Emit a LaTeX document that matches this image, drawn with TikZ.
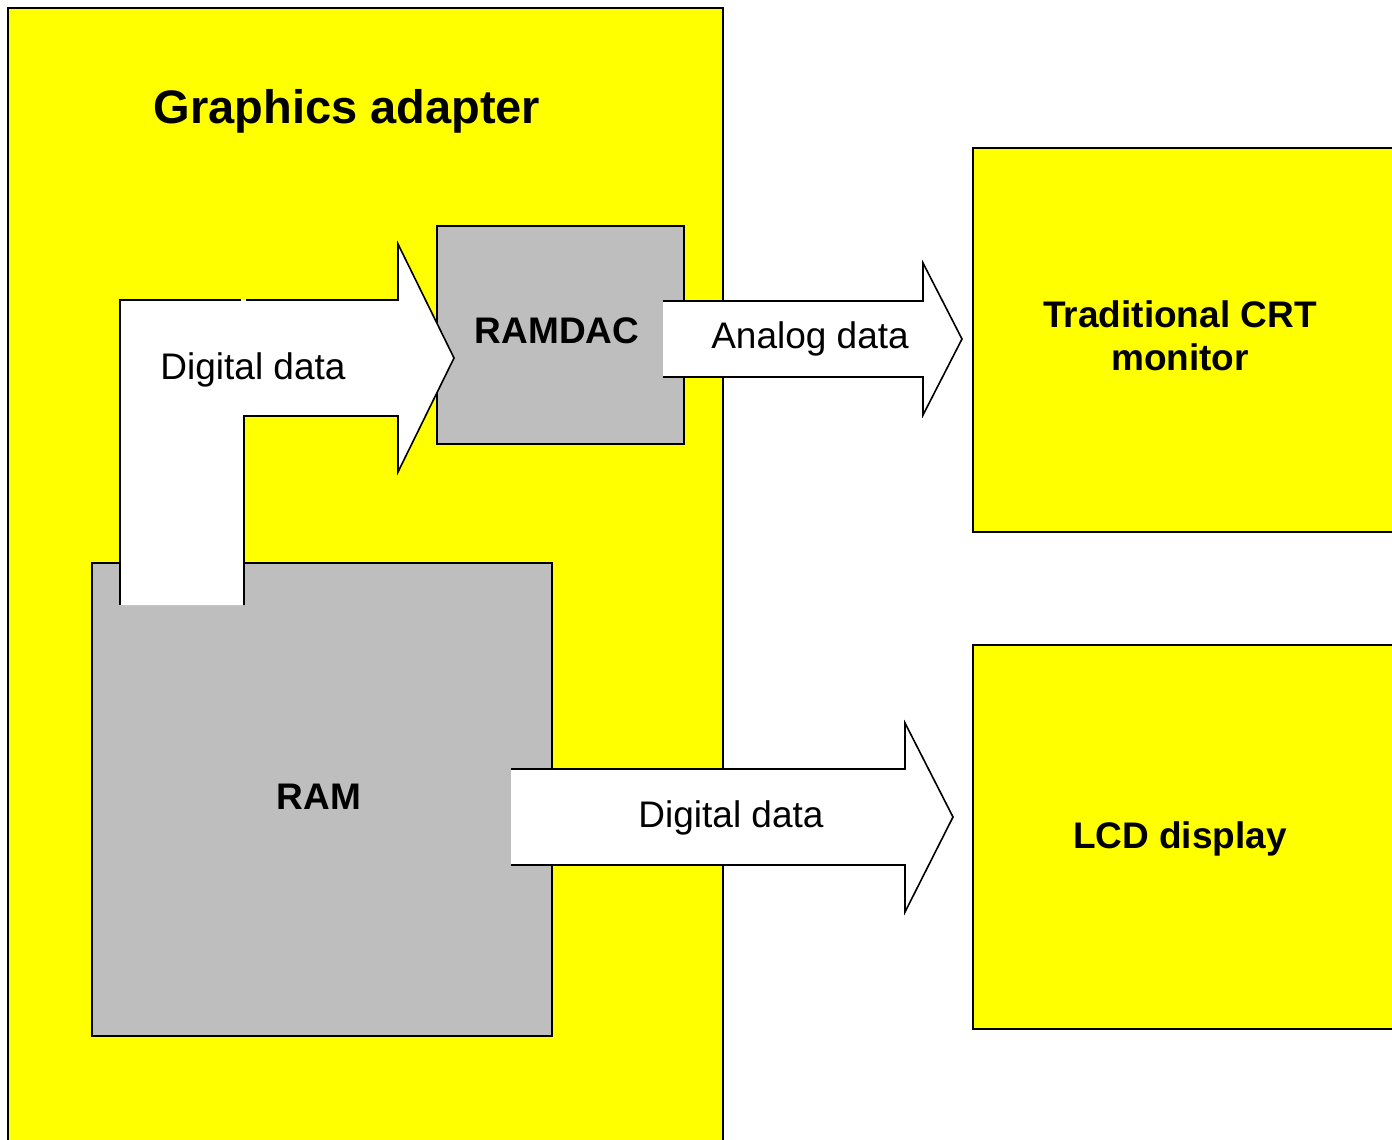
\documentclass[tikz,border=0pt]{standalone}
\usepackage{fontspec}
\setmainfont{Liberation Sans}
\definecolor{adyellow}{RGB}{255,255,0}
\definecolor{chipgray}{RGB}{190,190,190}
\tikzset{
  box/.style={draw=black, line width=1pt, inner sep=0pt},
  yellowbox/.style={box, fill=adyellow},
  graybox/.style={box, fill=chipgray},
  boldlabel/.style={font=\fontsize{18.5}{20}\selectfont\bfseries, inner sep=0pt, anchor=base},
  arrowfill/.style={fill=white},
  arrowline/.style={draw=black, line width=0.8pt, line join=miter},
  plainlabel/.style={font=\fontsize{18.5}{20}\selectfont, inner sep=0pt, anchor=base},
}
\begin{document}
\begin{tikzpicture}[x=0.5pt,y=-0.5pt]
\useasboundingbox (0,0) rectangle (1392,1140);
\clip (0,0) rectangle (1392,1140);
% graphics adapter
\node[yellowbox, minimum width=357.5pt, minimum height=580pt, anchor=north west] (adapter) at (7,7) {};
\node[font=\fontsize{23.5}{26}\selectfont\bfseries, inner sep=0pt, anchor=base] (adtitle) at (347,123) {Graphics adapter};
% chips
\node[graybox, minimum width=123.5pt, minimum height=109pt, anchor=north west] (ramdac) at (436,225) {};
\node[boldlabel] (ramdaclabel) at (557,343) {RAMDAC};
\node[graybox, minimum width=230pt, minimum height=236.5pt, anchor=north west] (ram) at (91,562) {};
\node[boldlabel] (ramlabel) at (319,809) {RAM};
% displays
\node[yellowbox, minimum width=210pt, minimum height=192pt, anchor=north west] (crt) at (972,147) {};
\node[boldlabel] (crt1) at (1180,327) {Traditional CRT};
\node[boldlabel] (crt2) at (1180,370) {monitor};
\node[yellowbox, minimum width=210pt, minimum height=192pt, anchor=north west] (lcd) at (972,644) {};
\node[boldlabel] (lcdlabel) at (1180,848) {LCD display};
% L-shaped arrow RAM -> RAMDAC
\fill[arrowfill] (120,605) -- (120,300) -- (398,300) -- (398,244) -- (454,358) -- (398,472) -- (398,416) -- (244,416) -- (244,605) -- cycle;
\draw[arrowline] (120,605) -- (120,300) -- (241,300);
\draw[arrowline] (246,300) -- (398,300) -- (398,244) -- (454,358) -- (398,472) -- (398,416) -- (244,416) -- (244,605);
\node[plainlabel] (dig1) at (253,379) {Digital data};
% analog arrow
\fill[arrowfill] (663,301) -- (923,301) -- (923,263) -- (962,339) -- (923,415) -- (923,377) -- (663,377) -- cycle;
\draw[arrowline] (663,301) -- (923,301) -- (923,263) -- (962,339) -- (923,415) -- (923,377) -- (663,377);
\node[plainlabel] (analog) at (810,348) {Analog data};
% lower digital arrow
\fill[arrowfill] (511,769) -- (905,769) -- (905,723) -- (953,817) -- (905,912) -- (905,865) -- (511,865) -- cycle;
\draw[arrowline] (511,769) -- (905,769) -- (905,723) -- (953,817) -- (905,912) -- (905,865) -- (511,865);
\node[plainlabel] (dig2) at (731,827) {Digital data};
\end{tikzpicture}
\end{document}
